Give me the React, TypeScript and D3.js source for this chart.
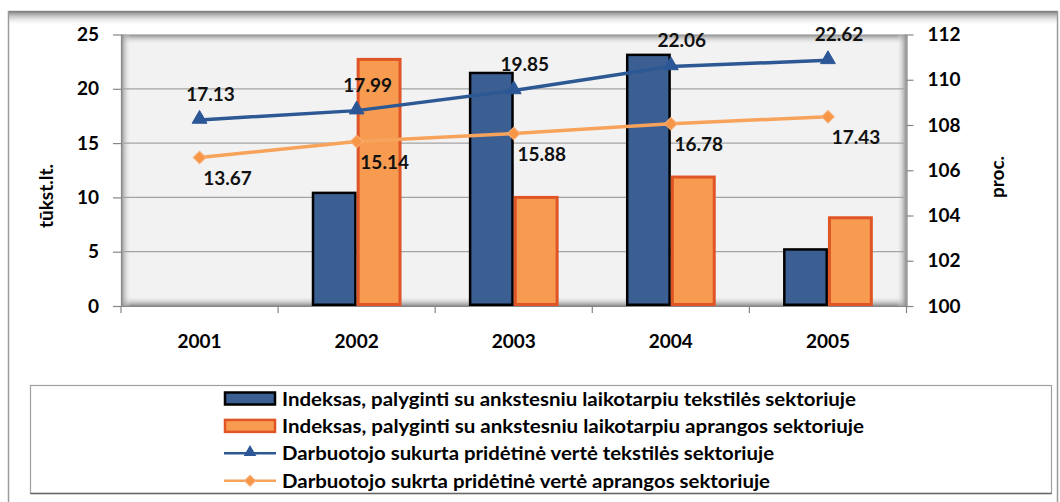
import React, { useEffect, useRef } from 'react';
import * as d3 from 'd3';

// chart data
const years = ['2001', '2002', '2003', '2004', '2005'];
const indexTextile: (number | null)[] = [null, 105.0, 110.3, 111.1, 102.5];
const indexApparel: (number | null)[] = [null, 110.9, 104.8, 105.7, 103.9];
const valueTextile = [17.13, 17.99, 19.85, 22.06, 22.62];
const valueApparel = [13.67, 15.14, 15.88, 16.78, 17.43];
const leftTicks = [0, 5, 10, 15, 20, 25];
const rightTicks = [100, 102, 104, 106, 108, 110, 112];
const legendLabels = [
  'Indeksas, palyginti su ankstesniu laikotarpiu  tekstilės sektoriuje',
  'Indeksas, palyginti su ankstesniu laikotarpiu  aprangos sektoriuje',
  'Darbuotojo sukurta pridėtinė vertė tekstilės sektoriuje',
  'Darbuotojo sukrta pridėtinė vertė aprangos sektoriuje',
];
// legend text widths as they appear in the picture
const legendWidths = [574, 582, 492, 488];

const FONT = "Lato, 'Open Sans', sans-serif";
const BLUE = '#3c5f93';
const BLUE_LINE = '#2c5893';
const ORANGE = '#f79b51';
const ORANGE_EDGE = '#e05526';
const ORANGE_LINE = '#f7a35c';

const App = () => {
  const svgRef = useRef<SVGSVGElement>(null);

  useEffect(() => {
    const svg = d3.select(svgRef.current);
    svg.selectAll('*').remove();

    const width = 1060;
    const height = 502;
    const plot = { left: 121, top: 34.5, right: 906.5, bottom: 306 };

    const x = d3.scaleBand().domain(years).range([plot.left, plot.right]);
    const yLeft = d3.scaleLinear().domain([0, 25]).range([plot.bottom, plot.top]);
    const yRight = d3.scaleLinear().domain([100, 112]).range([plot.bottom, plot.top]);
    const barW = x.bandwidth() / 3.5;

    svg.attr('width', width).attr('height', height);

    const defs = svg.append('defs');
    const grad = (id: string, x1: number, y1: number, x2: number, y2: number, from: string, to: string) => {
      const g = defs.append('linearGradient').attr('id', id)
        .attr('x1', x1).attr('y1', y1).attr('x2', x2).attr('y2', y2);
      g.append('stop').attr('offset', 0).attr('stop-color', from);
      g.append('stop').attr('offset', 1).attr('stop-color', to).attr('stop-opacity', 0);
    };
    grad('shTop', 0, 0, 0, 1, '#8a8a8a', '#f2f2f2');
    grad('shBottom', 0, 1, 0, 0, '#8a8a8a', '#f2f2f2');
    grad('shLeft', 0, 0, 1, 0, '#8a8a8a', '#f2f2f2');
    grad('shRight', 1, 0, 0, 0, '#8a8a8a', '#f2f2f2');
    grad('frameTop', 0, 0, 0, 1, '#7a7a7a', '#ffffff');

    // outer chart frame
    svg.append('rect').attr('x', 8.5).attr('y', 11.5).attr('width', 1049).attr('height', 500)
      .attr('fill', '#fff').attr('stroke', '#9a9a9a').attr('stroke-width', 1.5);
    svg.append('rect').attr('x', 9).attr('y', 11).attr('width', 1048).attr('height', 15)
      .attr('fill', 'url(#frameTop)');

    // plot area with inner shadow
    const pw = plot.right - plot.left;
    const ph = plot.bottom - plot.top;
    svg.append('rect').attr('x', plot.left).attr('y', plot.top).attr('width', pw).attr('height', ph)
      .attr('fill', '#f2f2f2');
    const s = 10;
    svg.append('rect').attr('x', plot.left).attr('y', plot.top).attr('width', pw).attr('height', s).attr('fill', 'url(#shTop)');
    svg.append('rect').attr('x', plot.left).attr('y', plot.bottom - s).attr('width', pw).attr('height', s).attr('fill', 'url(#shBottom)');
    svg.append('rect').attr('x', plot.left).attr('y', plot.top).attr('width', s).attr('height', ph).attr('fill', 'url(#shLeft)');
    svg.append('rect').attr('x', plot.right - s).attr('y', plot.top).attr('width', s).attr('height', ph).attr('fill', 'url(#shRight)');

    // gridlines
    svg.append('g').selectAll('line')
      .data(leftTicks.filter(d => d > 0 && d < 25))
      .enter().append('line')
      .attr('x1', plot.left).attr('x2', plot.right)
      .attr('y1', d => yLeft(d)).attr('y2', d => yLeft(d))
      .attr('stroke', '#a3a3a3').attr('stroke-width', 1.2);

    // bars (right axis)
    const bars = svg.append('g');
    const drawBars = (vals: (number | null)[], offset: number, fill: string, stroke: string, sw: number) => {
      bars.selectAll(null)
        .data(years.map((yr, i) => ({ yr, v: vals[i] })).filter(d => d.v !== null))
        .enter().append('rect')
        .attr('x', d => (x(d.yr) as number) + x.bandwidth() / 2 + offset * barW + sw / 2)
        .attr('y', d => yRight(d.v as number))
        .attr('width', barW - sw)
        .attr('height', d => plot.bottom - yRight(d.v as number) - sw / 2)
        .attr('fill', fill).attr('stroke', stroke).attr('stroke-width', sw);
    };
    drawBars(indexTextile, -1, BLUE, '#000', 2.5);
    drawBars(indexApparel, 0, ORANGE, ORANGE_EDGE, 3);

    // lines (left axis)
    const cx = (i: number) => (x(years[i]) as number) + x.bandwidth() / 2;
    const line = d3.line<number>().x((_, i) => cx(i)).y(d => yLeft(d));

    svg.append('path').datum(valueApparel).attr('d', line)
      .attr('fill', 'none').attr('stroke', ORANGE_LINE).attr('stroke-width', 3.5);
    svg.append('g').selectAll('path').data(valueApparel).enter().append('path')
      .attr('d', d3.symbol().type(d3.symbolSquare).size(80))
      .attr('transform', (d, i) => `translate(${cx(i)},${yLeft(d)}) rotate(45)`)
      .attr('fill', '#f79646').attr('stroke', '#f7b07a').attr('stroke-width', 1);

    svg.append('path').datum(valueTextile).attr('d', line)
      .attr('fill', 'none').attr('stroke', BLUE_LINE).attr('stroke-width', 3.5);
    svg.append('g').selectAll('path').data(valueTextile).enter().append('path')
      .attr('d', d3.symbol().type(d3.symbolTriangle).size(95))
      .attr('transform', (d, i) => `translate(${cx(i)},${yLeft(d) - 1})`)
      .attr('fill', '#2b5797').attr('stroke', '#2b5797').attr('stroke-width', 1);

    // data labels
    const fmt = d3.format('.2f');
    svg.append('g').selectAll('text').data(valueTextile).enter().append('text')
      .attr('x', (d, i) => cx(i) + 11).attr('y', d => yLeft(d) - 19)
      .attr('text-anchor', 'middle').style('font-family', FONT).style('font-size', '19px')
      .style('font-weight', 'bold').style('fill', '#111').text(d => fmt(d));
    svg.append('g').selectAll('text').data(valueApparel).enter().append('text')
      .attr('x', (d, i) => cx(i) + 28).attr('y', d => yLeft(d) + 27)
      .attr('text-anchor', 'middle').style('font-family', FONT).style('font-size', '19px')
      .style('font-weight', 'bold').style('fill', '#111').text(d => fmt(d));

    // axes
    const axisColor = '#868686';
    const styleAxis = (g: d3.Selection<SVGGElement, unknown, null, undefined>) => {
      g.select('.domain').attr('stroke', axisColor).attr('stroke-width', 1.2);
      g.selectAll('.tick line').attr('stroke', axisColor).attr('stroke-width', 1.2);
      g.selectAll('.tick text').style('font-family', FONT).style('font-size', '19px')
        .style('font-weight', 'bold').style('fill', '#000');
    };
    svg.append('g').attr('transform', `translate(${plot.left},0)`)
      .call(d3.axisLeft(yLeft).tickValues(leftTicks).tickSize(8).tickPadding(14).tickSizeOuter(0))
      .call(styleAxis);
    svg.append('g').attr('transform', `translate(${plot.right},0)`)
      .call(d3.axisRight(yRight).tickValues(rightTicks).tickSize(7).tickPadding(14).tickSizeOuter(0))
      .call(styleAxis);
    const xAxis = svg.append('g').attr('transform', `translate(0,${plot.bottom})`)
      .call(d3.axisBottom(x).tickSize(0).tickPadding(29))
      .call(styleAxis);
    xAxis.selectAll('.boundary').data(years.concat(['end'])).enter().append('line')
      .attr('class', 'boundary')
      .attr('x1', (d, i) => plot.left + i * x.step()).attr('x2', (d, i) => plot.left + i * x.step())
      .attr('y1', 0).attr('y2', 7).attr('stroke', axisColor).attr('stroke-width', 1.2);

    // axis titles
    svg.append('text').attr('transform', 'translate(53,196) rotate(-90)')
      .attr('text-anchor', 'middle').style('font-family', FONT).style('font-size', '19px')
      .style('font-weight', 'bold').text('tūkst.lt.');
    svg.append('text').attr('transform', 'translate(1004,177) rotate(-90)')
      .attr('text-anchor', 'middle').style('font-family', FONT).style('font-size', '19px')
      .style('font-weight', 'bold').text('proc.');

    // legend
    const lg = svg.append('g');
    lg.append('rect').attr('x', 30.5).attr('y', 385.5).attr('width', 1021).attr('height', 108)
      .attr('fill', '#fff').attr('stroke', '#a0a0a0').attr('stroke-width', 1.2);
    lg.append('line').attr('x1', 30.5).attr('x2', 1051.5).attr('y1', 493.5).attr('y2', 493.5)
      .attr('stroke', '#666').attr('stroke-width', 1.5);
    const rowY = (i: number) => 398.5 + i * 27.4;
    const symX0 = 224;
    const symX1 = 276;
    lg.append('rect').attr('x', symX0 + 1).attr('y', rowY(0) - 6).attr('width', symX1 - symX0 - 2).attr('height', 12)
      .attr('fill', BLUE).attr('stroke', '#000').attr('stroke-width', 2.5);
    lg.append('rect').attr('x', symX0 + 1).attr('y', rowY(1) - 6).attr('width', symX1 - symX0 - 2).attr('height', 12)
      .attr('fill', ORANGE).attr('stroke', ORANGE_EDGE).attr('stroke-width', 2.5);
    lg.append('line').attr('x1', symX0).attr('x2', symX1).attr('y1', rowY(2)).attr('y2', rowY(2))
      .attr('stroke', BLUE_LINE).attr('stroke-width', 2.5);
    lg.append('path').attr('d', d3.symbol().type(d3.symbolTriangle).size(70))
      .attr('transform', `translate(${(symX0 + symX1) / 2},${rowY(2) - 1})`).attr('fill', '#2b5797');
    lg.append('line').attr('x1', symX0).attr('x2', symX1).attr('y1', rowY(3)).attr('y2', rowY(3))
      .attr('stroke', ORANGE_LINE).attr('stroke-width', 2.5);
    lg.append('path').attr('d', d3.symbol().type(d3.symbolSquare).size(60))
      .attr('transform', `translate(${(symX0 + symX1) / 2},${rowY(3)}) rotate(45)`)
      .attr('fill', '#f79646').attr('stroke', '#f7b07a');
    lg.selectAll('text.lbl').data(legendLabels).enter().append('text')
      .attr('class', 'lbl')
      .attr('x', 282).attr('y', (d, i) => rowY(i) + 7)
      .attr('textLength', (d, i) => legendWidths[i]).attr('lengthAdjust', 'spacingAndGlyphs')
      .style('font-family', FONT).style('font-size', '19.5px').style('font-weight', 'bold')
      .style('fill', '#000').text(d => d);
  }, []);

  return (
    <div style={{ position: 'absolute', left: 0, top: 0 }}>
      <svg ref={svgRef}></svg>
    </div>
  );
};

export default App;
